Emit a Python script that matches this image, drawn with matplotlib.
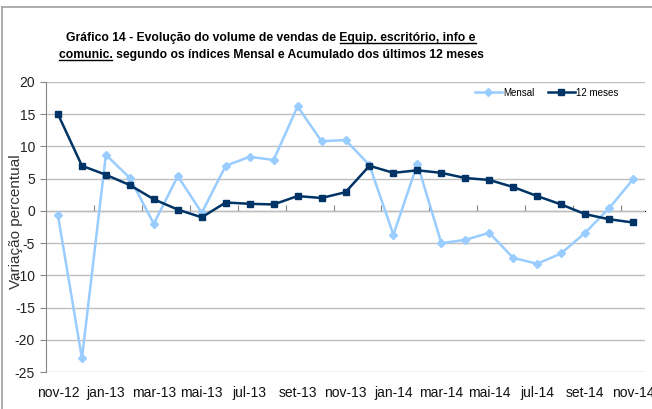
import matplotlib.pyplot as plt
import matplotlib.lines as mlines
from matplotlib import rcParams

rcParams['font.family'] = ['Liberation Sans', 'DejaVu Sans']

# dados
meses = ['nov-12', 'dez-12', 'jan-13', 'fev-13', 'mar-13', 'abr-13', 'mai-13',
         'jun-13', 'jul-13', 'ago-13', 'set-13', 'out-13', 'nov-13', 'dez-13',
         'jan-14', 'fev-14', 'mar-14', 'abr-14', 'mai-14', 'jun-14', 'jul-14',
         'ago-14', 'set-14', 'out-14', 'nov-14']
mensal = [-0.7, -22.9, 8.7, 5.1, -2.0, 5.4, -0.3, 7.0, 8.4, 7.9, 16.2, 10.8,
          11.0, 7.1, -3.7, 7.3, -5.0, -4.5, -3.4, -7.3, -8.2, -6.6, -3.4, 0.4, 4.9]
doze_meses = [15.0, 7.0, 5.6, 4.0, 1.8, 0.2, -1.0, 1.3, 1.1, 1.0, 2.3, 2.0,
              2.9, 7.0, 5.9, 6.3, 5.9, 5.1, 4.8, 3.7, 2.3, 1.0, -0.5, -1.3, -1.8]
yticks = [20, 15, 10, 5, 0, -5, -10, -15, -20, -25]

cor_mensal = '#99CCFF'
cor_12 = '#003366'
cinza = '#BEBEBE'

fig = plt.figure(figsize=(6.52, 4.09), dpi=100)
W, H = 652, 409

# moldura (só topo e esquerda aparecem)
fig.add_artist(mlines.Line2D([1.5 / W, 1], [1 - 7 / H, 1 - 7 / H], color='#A0A0A0', lw=1.2))
fig.add_artist(mlines.Line2D([1.5 / W, 1.5 / W], [0, 1 - 7 / H], color='#A0A0A0', lw=1.2))

ax = fig.add_axes([46 / W, 1 - 372 / H, (645 - 46) / W, (372 - 82) / H])
x = list(range(len(meses)))

ax.plot(x, mensal, color=cor_mensal, lw=1.8, marker='D', ms=4, label='Mensal')
ax.plot(x, doze_meses, color=cor_12, lw=1.8, marker='s', ms=5, label='12 meses')

ax.set_xlim(-0.5, len(meses) - 0.5)
ax.set_ylim(-25, 20)
ax.set_yticks(yticks)
ax.set_yticklabels([str(v) for v in yticks], fontsize=10, color='#222222')
ax.set_xticks(x[::2])
ax.set_xticklabels(meses[::2], fontsize=10, color='#111111')
ax.tick_params(axis='x', length=0, pad=10)
ax.tick_params(axis='y', length=4, color='#868686', pad=4, direction='out')
ax.grid(axis='y', color=cinza, lw=1)
ax.set_axisbelow(True)
for s in ['top', 'right', 'bottom']:
    ax.spines[s].set_visible(False)
ax.spines['left'].set_color('#868686')

# eixo horizontal no zero com marcas entre categorias
sec = ax.secondary_xaxis(25 / 45)
sec.set_xticks([k - 0.5 for k in range(2, len(meses), 2)])
sec.set_xticklabels([])
sec.tick_params(length=4, color='#868686', direction='out')
sec.spines['bottom'].set_color('#868686')

fig.text(16 / W, 1 - 222 / H, 'Variação percentual', rotation=90, ha='center',
         va='center', fontsize=11, color='#333333')

leg = ax.legend(loc='upper right', bbox_to_anchor=(0.97, 1.01), ncol=2, frameon=False,
                fontsize=7, handlelength=2.8, columnspacing=1.4, handletextpad=0.1)

# titulo com partes sublinhadas
fs = 8.75
cx = 271 / W
y1 = 1 - 41 / H
y2 = 1 - 58 / H
kw = dict(fontsize=fs, fontweight='bold', color='#000000', va='baseline', ha='center')
l1a = 'Gráfico 14 - Evolução do volume de vendas de '
l1b = 'Equip. escritório, info e'
l2a = 'comunic.'
l2b = ' segundo os índices Mensal e Acumulado dos últimos 12 meses'
t1 = fig.text(cx, y1, l1a + l1b, **kw)
t2 = fig.text(cx, y2, l2a + l2b, **kw)

fig.canvas.draw()
r = fig.canvas.get_renderer()


def largura(s):
    tmp = fig.text(0, 0, s + '|', fontsize=fs, fontweight='bold')
    bar = fig.text(0, 0, '|', fontsize=fs, fontweight='bold')
    w = tmp.get_window_extent(r).width - bar.get_window_extent(r).width
    tmp.remove()
    bar.remove()
    return w


def sublinhar(x0, x1, y):
    fig.add_artist(mlines.Line2D([x0 / W, x1 / W], [y - 2 / H, y - 2 / H],
                                 color='#000000', lw=1))


b1 = t1.get_window_extent(r)
xs = b1.x0 + largura(l1a)
sublinhar(xs, b1.x1, y1)
b2 = t2.get_window_extent(r)
sublinhar(b2.x0, b2.x0 + largura(l2a), y2)

fig.savefig('out.png', dpi=100, facecolor='white')
